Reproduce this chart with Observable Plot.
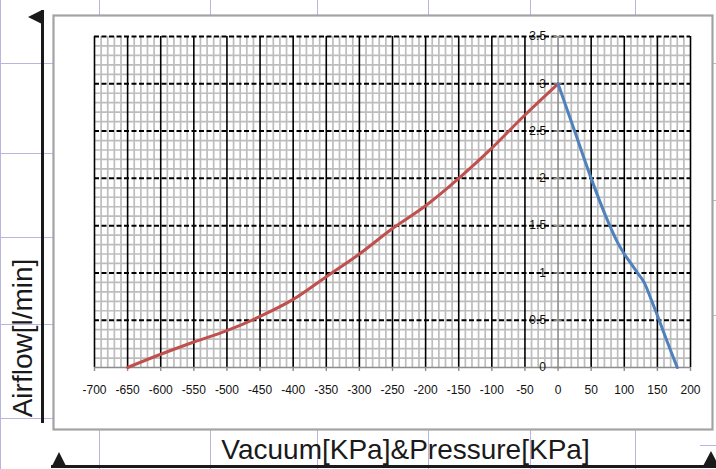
<!DOCTYPE html>
<html>
<head>
<meta charset="utf-8">
<script src="https://cdn.jsdelivr.net/npm/d3@7"></script>
<script src="https://cdn.jsdelivr.net/npm/@observablehq/plot@0.6"></script>
<style>
  html, body { margin: 0; padding: 0; background: white; }
  #wrap { position: relative; width: 716px; height: 469px; overflow: hidden; background: white; }
  .pl { position: absolute; background: #b9b4e0; }
  .blk { position: absolute; background: #1a1a1a; }
  .tri { position: absolute; width: 0; height: 0; }
  #chart { position: absolute; left: 0; top: 0; }
</style>
</head>
<body>
<div id="wrap">
  <!-- background page lines -->
  <div class="pl" style="left:99px;top:0;width:1px;height:469px"></div>
  <div class="pl" style="left:210px;top:0;width:1px;height:469px"></div>
  <div class="pl" style="left:317px;top:0;width:1px;height:469px"></div>
  <div class="pl" style="left:428px;top:0;width:1px;height:469px"></div>
  <div class="pl" style="left:530px;top:0;width:1px;height:469px"></div>
  <div class="pl" style="left:635px;top:0;width:1px;height:469px"></div>
  <div class="pl" style="left:0;top:0;width:1px;height:469px"></div>
  <div class="pl" style="left:0;top:63px;width:716px;height:1px"></div>
  <div class="pl" style="left:0;top:153px;width:60px;height:1px"></div>
  <div class="pl" style="left:0;top:237px;width:60px;height:1px"></div>
  <div class="pl" style="left:0;top:324px;width:60px;height:1px"></div>
  <div class="pl" style="left:0;top:418px;width:60px;height:1px"></div>
  <div class="pl" style="left:700px;top:200px;width:16px;height:1px"></div>
  <div class="pl" style="left:700px;top:315px;width:16px;height:1px"></div>
  <div class="pl" style="left:700px;top:445px;width:16px;height:1px"></div>
  <!-- black arrows -->
  <div class="blk" style="left:41px;top:10px;width:3px;height:413px"></div>
  <div class="tri" style="left:28px;top:10px;border-top:7.5px solid transparent;border-bottom:7.5px solid transparent;border-right:14px solid #1a1a1a"></div>
  <div class="blk" style="left:51px;top:465px;width:665px;height:3px"></div>
  <div class="tri" style="left:52px;top:452px;border-left:7.5px solid transparent;border-right:7.5px solid transparent;border-bottom:14px solid #1a1a1a"></div>
  <div class="tri" style="left:703px;top:451px;border-left:8px solid transparent;border-right:8px solid transparent;border-bottom:15px solid #1a1a1a"></div>
  <div id="chart"></div>
</div>
<script>
// ---- data ----
const vacuumKPa  = [-650, -600, -550, -500, -450, -400, -350, -300, -250, -200, -150, -100, -50, 0];
const vacuumFlow = [0, 0.14, 0.27, 0.39, 0.54, 0.72, 0.96, 1.2, 1.47, 1.71, 2.0, 2.32, 2.67, 3.0];
const pressureKPa  = [0, 25, 50, 75, 90, 100, 110, 120, 130, 140, 150, 165, 180];
const pressureFlow = [3.0, 2.5, 2.0, 1.55, 1.32, 1.2, 1.1, 1.0, 0.9, 0.73, 0.55, 0.27, 0];
const xTickValues = [-700, -650, -600, -550, -500, -450, -400, -350, -300, -250, -200, -150, -100, -50, 0, 50, 100, 150, 200];
const xTickLabels = ["-700", "-650", "-600", "-550", "-500", "-450", "-400", "-350", "-300", "-250", "-200", "-150", "-100", "-50", "0", "50", "100", "150", "200"];
const yTickValues = [0, 0.5, 1, 1.5, 2, 2.5, 3, 3.5];
const yTickLabels = ["0", "0.5", "1", "1.5", "2", "2.5", "3", "3.5"];
const xMinorStep = 10;
const yMinorStep = 0.1;
const xTitle = "Vacuum[KPa]&Pressure[KPa]";
const yTitle = "Airflow[l/min]";

const vacuum = vacuumKPa.map((x, i) => ({x, y: vacuumFlow[i]}));
const pressure = pressureKPa.map((x, i) => ({x, y: pressureFlow[i]}));
const xTicks = xTickValues.map((v, i) => ({v, label: xTickLabels[i]}));
const yTicks = yTickValues.map((v, i) => ({v, label: yTickLabels[i]}));
const xMinor = d3.range(-700, 200.001, xMinorStep).filter(v => Math.abs(v % 50) > 1e-6);
const yMinor = d3.range(0, 3.5001, yMinorStep).map(v => +v.toFixed(2)).filter(v => Math.abs((v * 10) % 5) > 1e-6);
const xMajor = xTickValues.filter(v => v !== 0);
const yMajor = yTickValues.filter(v => v !== 0);

const font = "'Liberation Sans', Arial, sans-serif";

const chart = Plot.plot({
  width: 716,
  height: 469,
  marginLeft: 94,
  marginRight: 26,
  marginTop: 36,
  marginBottom: 102,
  style: {background: "transparent", fontFamily: font, overflow: "visible"},
  x: {domain: [-700, 200], axis: null},
  y: {domain: [0, 3.5], axis: null},
  marks: [
    Plot.frame({fill: "white", stroke: "#a3a3a3", strokeWidth: 2.2,
      insetLeft: -41, insetTop: -21, insetRight: -22, insetBottom: -62}),
    Plot.ruleX(xMinor, {stroke: "#bdbdbd", strokeWidth: 1.7}),
    Plot.ruleY(yMinor, {stroke: "#bdbdbd", strokeWidth: 1.7}),
    Plot.ruleX(xMajor, {stroke: "#000", strokeWidth: 1.6}),
    Plot.ruleY(yMajor, {stroke: "#000", strokeWidth: 2, strokeDasharray: "5,2.5"}),
    Plot.ruleX([0], {stroke: "#8c8c8c", strokeWidth: 1.6}),
    Plot.ruleY([0], {stroke: "#8c8c8c", strokeWidth: 1.6}),
    Plot.ruleX(xTickValues, {y1: 0, y2: 0, insetBottom: -4, stroke: "#8c8c8c", strokeWidth: 1.4}),
    Plot.ruleY(yTickValues, {x1: 0, x2: 0, insetLeft: -4, insetRight: -4, stroke: "#8c8c8c", strokeWidth: 1.4}),
    Plot.line(vacuum, {x: "x", y: "y", stroke: "#c0504d", strokeWidth: 3, curve: "monotone-x"}),
    Plot.line(pressure, {x: "x", y: "y", stroke: "#4f81bd", strokeWidth: 3, curve: "monotone-x"}),
    Plot.text(yTicks, {x: () => 0, y: "v", text: "label", textAnchor: "end", dx: -12, fontSize: 12, fill: "#111"}),
    Plot.text(xTicks, {x: "v", y: () => 0, text: "label", dy: 23, fontSize: 12, fill: "#111"}),
    Plot.text([xTitle], {text: d => d, frameAnchor: "bottom", textAnchor: "middle", lineAnchor: "middle", dx: 13, dy: 83, fontSize: 28, fill: "#1a1a1a"}),
    Plot.text([yTitle], {text: d => d, frameAnchor: "left", textAnchor: "middle", lineAnchor: "middle", rotate: -90, dx: -71, dy: 136, fontSize: 28, letterSpacing: "0.7px", fill: "#1a1a1a"})
  ]
});
document.getElementById("chart").appendChild(chart);
</script>
</body>
</html>
